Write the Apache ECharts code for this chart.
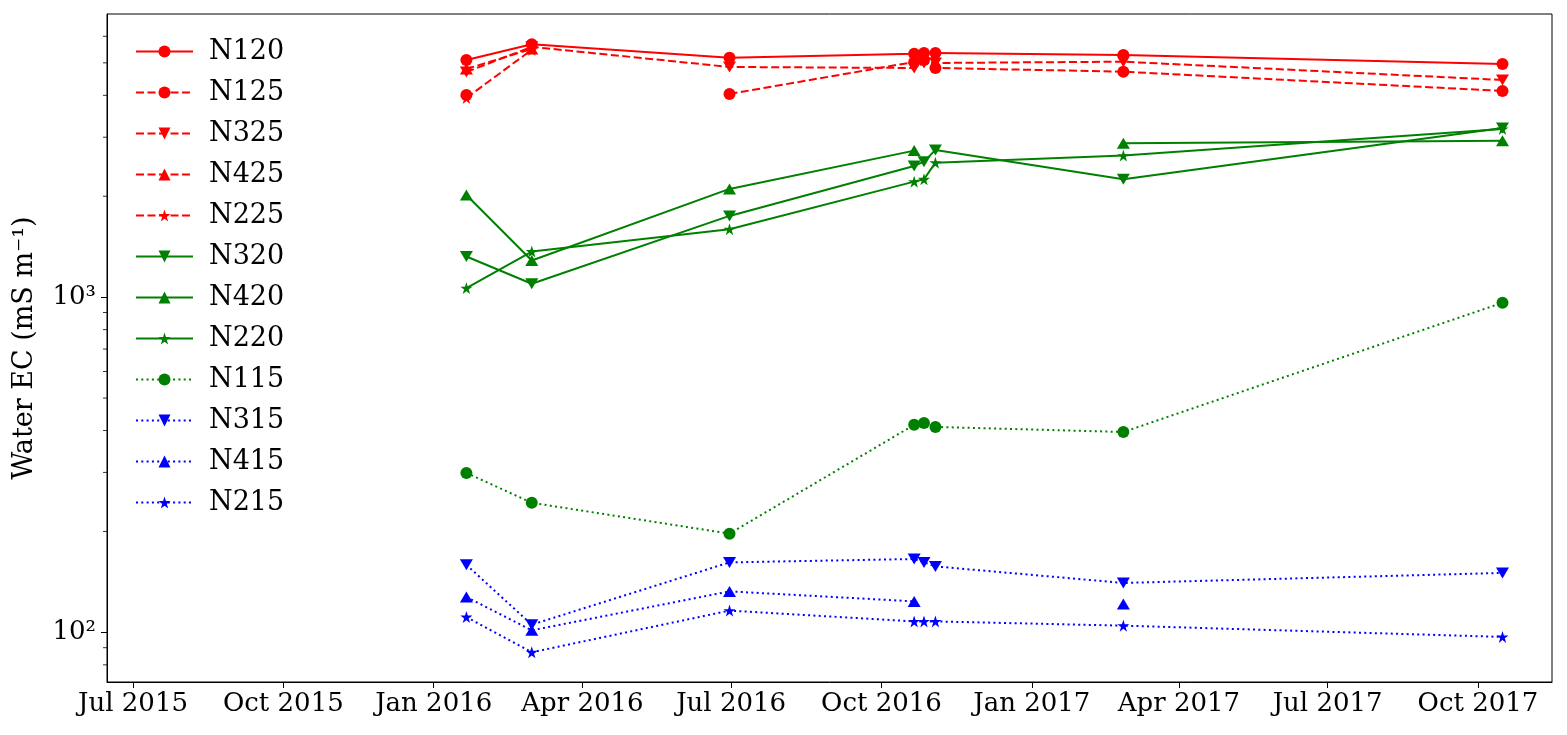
<!DOCTYPE html>
<html>
<head>
<meta charset="utf-8">
<script src="https://cdn.jsdelivr.net/npm/echarts@6/dist/echarts.min.js"></script>
<style>
html,body{margin:0;padding:0;background:#fff;}
#chart{width:1567px;height:735px;}
</style>
</head>
<body>
<div id="chart"></div>
<script>
// ---- data ----
const sampleDates = ['2016-01-21','2016-03-01','2016-06-30','2016-10-21','2016-10-27','2016-11-03','2017-02-26','2017-10-16'];
const N120 = [5099, 5679, 5180, 5320, 5351, 5351, 5277, 4961];
const N125 = [4010, null, 4038, 5030, 5099, 4827, 4706, 4122];
const N325 = [4696, 5580, 4860, 4827, 4995, 4995, 5040, 4445];
const N425 = [4794, 5500, null, null, null, null, null, null];
const N225 = [3929, 5470, null, null, null, null, null, null];
const N320 = [1322, 1096, 1747, 2463, 2536, 2749, 2248, 3197];
const N420 = [2018, 1286, 2103, 2736, null, null, 2878, 2930];
const N220 = [1064, 1368, 1595, 2211, 2248, 2519, 2644, 3175];
const N115 = [299, 243.5, 197, 416, 421, 410, 396, 962];
const N315 = [159, 105.4, 161.7, 165.5, 161.7, 157.3, 140.4, 150.4];
const N415 = [127.5, 101.4, 132.5, 123.7, null, null, 121.5, null];
const N215 = [111.1, 87.2, 116.1, 107.8, 107.8, 107.8, 104.7, 96.9];
const yMajorTicks = [100, 1000];
const yMinorTicks = [80, 90, 200, 300, 400, 500, 600, 700, 800, 900, 2000, 3000, 4000, 5000, 6000];
const monthNames = ['Jan','Feb','Mar','Apr','May','Jun','Jul','Aug','Sep','Oct','Nov','Dec'];
const xMin = '2015-06-15T02:00:00';
const xMax = '2017-11-15T07:00:00';
const yMin = 71.1, yMax = 6993;

// ---- styles ----
const STAR = 'path://M0,-10L2.24,-3.09L9.51,-3.09L3.63,1.18L5.88,8.09L0,3.82L-5.88,8.09L-3.63,1.18L-9.51,-3.09L-2.24,-3.09Z';
const RED = '#ff0000', GREEN = '#008000', BLUE = '#0000ff';
const DASH = [8, 3.5], DOT = [2, 3.3];
const FONT = 'DejaVu Serif';

const seriesDefs = [
  {name:'N120', vals:N120, color:RED,   line:'solid', sym:'circle'},
  {name:'N125', vals:N125, color:RED,   line:DASH,    sym:'circle'},
  {name:'N325', vals:N325, color:RED,   line:DASH,    sym:'down'},
  {name:'N425', vals:N425, color:RED,   line:DASH,    sym:'up'},
  {name:'N225', vals:N225, color:RED,   line:DASH,    sym:'star'},
  {name:'N320', vals:N320, color:GREEN, line:'solid', sym:'down'},
  {name:'N420', vals:N420, color:GREEN, line:'solid', sym:'up'},
  {name:'N220', vals:N220, color:GREEN, line:'solid', sym:'star'},
  {name:'N115', vals:N115, color:GREEN, line:DOT,     sym:'circle'},
  {name:'N315', vals:N315, color:BLUE,  line:DOT,     sym:'down'},
  {name:'N415', vals:N415, color:BLUE,  line:DOT,     sym:'up'},
  {name:'N215', vals:N215, color:BLUE,  line:DOT,     sym:'star'}
];

function symOpts(s){
  if (s === 'circle') return {symbol:'circle', symbolSize:12, symbolRotate:0};
  if (s === 'up') return {symbol:'triangle', symbolSize:[13,11], symbolRotate:0};
  if (s === 'down') return {symbol:'triangle', symbolSize:[13,11], symbolRotate:180};
  return {symbol:STAR, symbolSize:12, symbolRotate:0};
}

const series = seriesDefs.map(d => Object.assign({
  name: d.name,
  type: 'line',
  data: sampleDates.map((t, i) => [t, d.vals[i]]),
  connectNulls: false,
  showAllSymbol: true,
  lineStyle: {color: d.color, width: 2, type: d.line},
  itemStyle: {color: d.color, borderWidth: 0},
  emphasis: {disabled: true},
  z: 3
}, symOpts(d.sym)));

series.push({
  name: 'minorTicks',
  type: 'scatter',
  data: yMinorTicks.map(v => [xMin, v]),
  symbol: 'rect',
  symbolSize: [4, 1],
  symbolOffset: [-2, 0],
  itemStyle: {color: '#000'},
  clip: false,
  silent: true,
  z: 5
});

const chart = echarts.init(document.getElementById('chart'), null, {renderer: 'canvas'});
chart.setOption({
  animation: false,
  backgroundColor: '#fff',
  grid: {left: 107, right: 15, top: 14, bottom: 53, containLabel: false, outerBoundsMode: 'none',
         show: true, borderColor: '#000', borderWidth: 1, backgroundColor: 'transparent'},
  legend: {
    data: seriesDefs.map(d => d.name),
    orient: 'vertical',
    left: 130, top: 33,
    itemWidth: 57, itemHeight: 15, itemGap: 14,
    textStyle: {fontFamily: FONT, fontSize: 27, color: '#000', lineHeight: 27, padding: [0, 0, 0, 11]},
    selectedMode: false
  },
  xAxis: {
    type: 'time',
    min: xMin, max: xMax,
    splitNumber: 7,
    axisLine: {show: true, lineStyle: {color: '#000', width: 1}},
    axisTick: {show: true, length: 6, lineStyle: {color: '#000', width: 1}},
    splitLine: {show: false},
    axisLabel: {
      fontFamily: FONT, fontSize: 26, color: '#000', margin: 9,
      showMinLabel: false, showMaxLabel: false, hideOverlap: false,
      formatter: function (v) { const d = new Date(v); return monthNames[d.getMonth()] + ' ' + d.getFullYear(); }
    }
  },
  yAxis: {
    type: 'log', logBase: 10,
    min: yMin, max: yMax,
    name: 'Water EC (mS m\u207B\u00B9)',
    nameLocation: 'middle', nameGap: 69, nameRotate: 90,
    nameTextStyle: {fontFamily: FONT, fontSize: 27, color: '#000'},
    axisLine: {show: true, lineStyle: {color: '#000', width: 1}},
    axisTick: {show: true, length: 6, lineStyle: {color: '#000', width: 1}},
    splitLine: {show: false},
    axisLabel: {
      fontFamily: FONT, fontSize: 26, color: '#000', margin: 11,
      showMinLabel: false, showMaxLabel: false,
      formatter: function (v) {
        const i = yMajorTicks.findIndex(t => Math.abs(t - v) / t < 1e-6);
        if (i < 0) return '';
        return '10' + (yMajorTicks[i] === 100 ? '\u00B2' : '\u00B3');
      }
    }
  },
  series: series
});
</script>
</body>
</html>
